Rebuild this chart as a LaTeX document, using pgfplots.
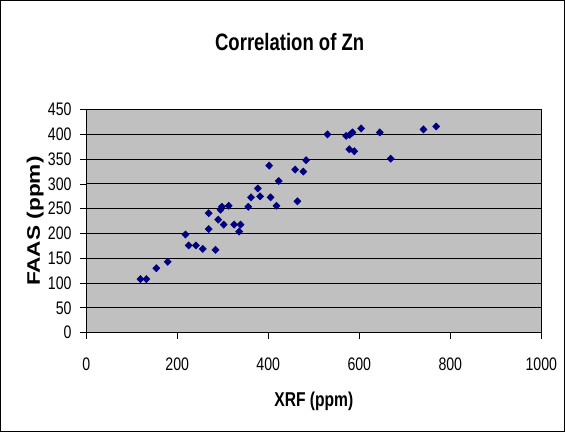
\documentclass[border=0pt]{standalone}
\usepackage{fontspec}
\setmainfont[FakeStretch=0.78]{Liberation Sans}
\newfontfamily\ylabfont[FakeStretch=1.25]{Liberation Sans}
\usepackage{pgfplots}
\pgfplotsset{compat=1.18}
\definecolor{plotgray}{RGB}{192,192,192}
\definecolor{marknavy}{RGB}{0,0,128}
\begin{document}
\begin{tikzpicture}
\path[use as bounding box] (0,0) rectangle (423.75pt,324pt);
\draw[black, line width=0.8pt] (0.6pt,0.6pt) rectangle (423.15pt,323.4pt);
\begin{axis}[
  at={(64.7pt,74.5pt)}, anchor=south west,
  scale only axis, width=341.3pt, height=167.3pt,
  xmin=0, xmax=1000, ymin=0, ymax=450,
  xtick={0,200,...,1000}, ytick={0,50,...,450},
  axis background/.style={fill=plotgray},
  axis line style={black, line width=0.6pt},
  ymajorgrids, grid style={black, line width=0.8pt},
  tick align=outside, major tick length=4.5pt,
  tick style={black, line width=0.6pt},
  xtick pos=bottom, ytick pos=left,
  /pgf/number format/assume math mode=true,
  /pgf/number format/1000 sep={},
  tick label style={font=\fontsize{13.6}{15}\selectfont},
  xticklabel style={yshift=-10.5pt},
  yticklabel style={xshift=-3pt},
  xlabel={\textbf{XRF (ppm)}},
  ylabel={\ylabfont\textbf{FAAS (ppm)}},
  xlabel style={font=\fontsize{15}{17}\selectfont, at={(axis description cs:0.5,-0.31)}, anchor=center},
  ylabel style={font=\fontsize{13.6}{15}\selectfont, at={(axis description cs:-0.112,0.5)}, anchor=center},
  title={\textbf{Correlation of Zn}},
  title style={font=\fontsize{17.8}{20}\selectfont, at={(axis description cs:0.447,1.265)}, anchor=center},
  clip=false,
]
\addplot[only marks, mark=diamond*, mark size=2.7pt, marknavy, mark options={fill=marknavy, draw=marknavy, xscale=1.3}] coordinates {
(119,108) (132,108) (154,130) (179,143) (218,198) (225,176) (241,176) (256,169)
(269,241) (269,209) (284,167) (290,228) (295,248) (298,254) (302,218) (313,256)
(325,218) (336,204) (339,218) (356,254) (362,273) (377,291) (382,275) (402,337)
(405,273) (418,256) (423,306) (459,329) (464,265) (477,325) (483,348)
(530,400) (571,397) (578,370) (579,399) (585,404) (589,366) (604,412) (645,404)
(669,351) (741,410) (769,416)
};
\end{axis}
\end{tikzpicture}
\end{document}
